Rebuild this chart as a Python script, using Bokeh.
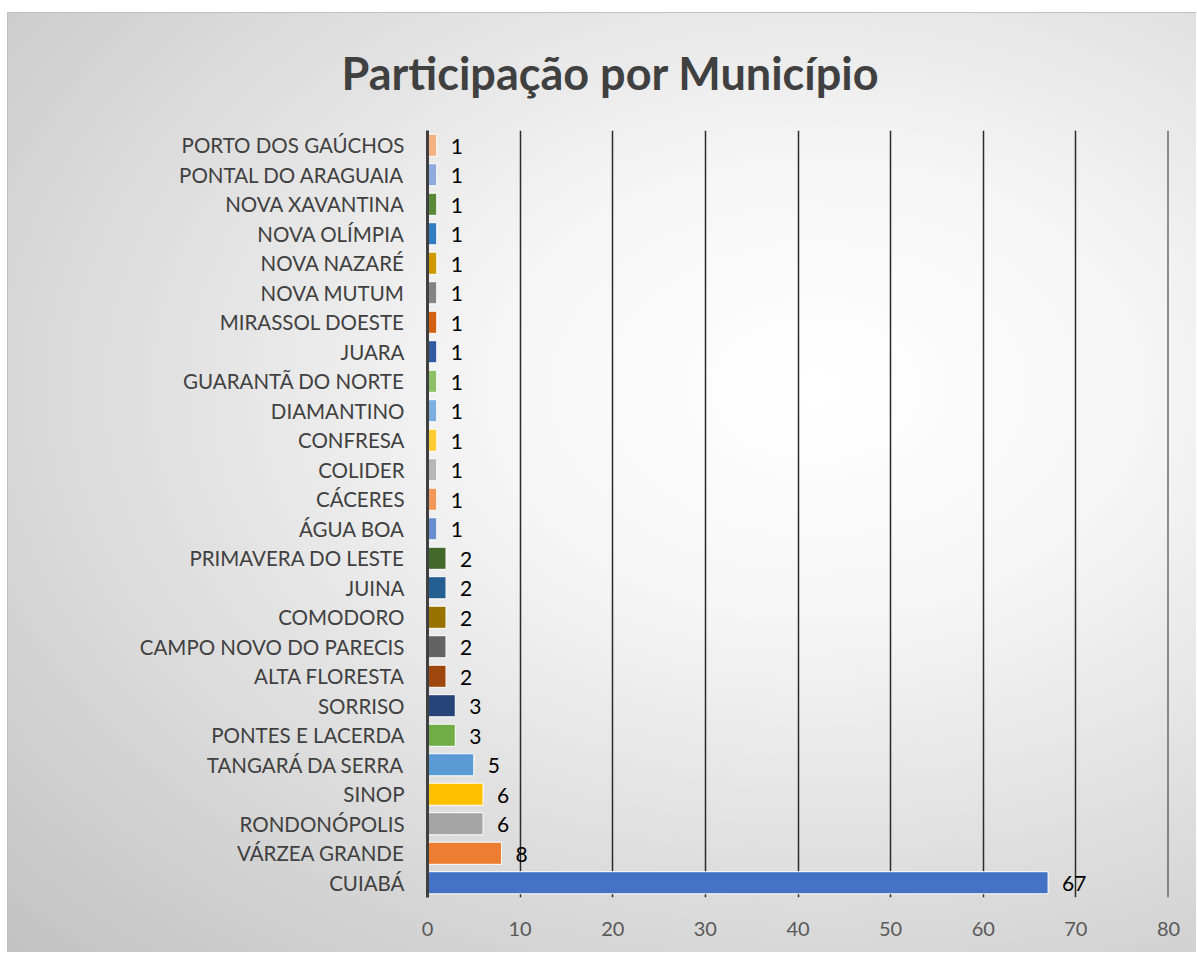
from bokeh.plotting import figure
from bokeh.models import ColumnDataSource, LabelSet, FactorRange, Range1d, FixedTicker, Span
from bokeh.core.properties import value
from bokeh.embed import file_html
from bokeh.resources import INLINE

# bottom -> top
municipios = [
    "CUIABÁ", "VÁRZEA GRANDE", "RONDONÓPOLIS", "SINOP", "TANGARÁ DA SERRA",
    "PONTES E LACERDA", "SORRISO", "ALTA FLORESTA", "CAMPO NOVO DO PARECIS",
    "COMODORO", "JUINA", "PRIMAVERA DO LESTE", "ÁGUA BOA", "CÁCERES", "COLIDER",
    "CONFRESA", "DIAMANTINO", "GUARANTÃ DO NORTE", "JUARA", "MIRASSOL DOESTE",
    "NOVA MUTUM", "NOVA NAZARÉ", "NOVA OLÍMPIA", "NOVA XAVANTINA",
    "PONTAL DO ARAGUAIA", "PORTO DOS GAÚCHOS",
]
valores = [67, 8, 6, 6, 5, 3, 3, 2, 2, 2, 2, 2, 1, 1, 1, 1, 1, 1, 1, 1, 1, 1, 1, 1, 1, 1]
cores = [
    "#4472C4", "#ED7D31", "#A5A5A5", "#FFC000", "#5B9BD5", "#70AD47",
    "#264478", "#9E480E", "#636363", "#997300", "#255E91", "#43682B",
    "#698ED0", "#F1975A", "#B7B7B7", "#FFCD33", "#7CAFDD", "#8CC168",
    "#335AA1", "#D26012", "#848484", "#CC9A00", "#327DC2", "#5A8A39",
    "#8FAADC", "#F4B183",
]
ticks_x = [0, 10, 20, 30, 40, 50, 60, 70, 80]
titulo = "Participação por Município"

src = ColumnDataSource(dict(m=municipios, v=valores, c=cores, t=[str(x) for x in valores]))

p = figure(
    width=1189, height=940,
    y_range=FactorRange(*municipios), x_range=Range1d(0, 80),
    output_backend="svg", toolbar_location=None,
    min_border_left=419, min_border_right=29, min_border_top=116, min_border_bottom=56,
    title=titulo,
)
p.styles = {
    "margin-top": "12px",
    "margin-left": "7px",
    "border-top": "1px solid #c0c0c0",
    "border-left": "1px solid #c0c0c0",
    "background": "radial-gradient(ellipse farthest-corner at 68% 40%, #ffffff 0%, #f6f6f6 28%, #c2c2c2 100%)",
}
p.border_fill_color = None
p.background_fill_color = None
p.outline_line_color = None

p.title.text_font = "Lato"
p.title.text_font_size = "45px"
p.title.text_font_style = "bold"
p.title.text_color = "#404040"
p.title.align = "left"
p.title.offset = -86
p.title.standoff = 61

p.hbar(y="m", right="v", height=0.75, fill_color="c", line_color="white", line_width=1, source=src)

labels = LabelSet(x="v", y="m", text="t", source=src, x_offset=14, y_offset=-1,
                  text_baseline="middle", text_align="left",
                  text_font_size="21px", text_font=value("Lato"), text_color="#000000")
p.add_layout(labels)

p.xgrid.ticker = FixedTicker(ticks=ticks_x)
p.xgrid.grid_line_color = "#2b2b2b"
p.xgrid.grid_line_width = 1.5
p.ygrid.grid_line_color = None
p.add_layout(Span(location=ticks_x[-1], dimension="height", line_color="#2b2b2b", line_width=2))

p.xaxis.ticker = FixedTicker(ticks=ticks_x)
p.xaxis.axis_line_color = None
p.xaxis.major_tick_line_color = None
p.xaxis.minor_tick_line_color = None
p.xaxis.major_label_standoff = 18
p.xaxis.major_label_text_font = "Lato"
p.xaxis.major_label_text_font_size = "20px"
p.xaxis.major_label_text_color = "#595959"

p.yaxis.axis_line_color = "#404040"
p.yaxis.axis_line_width = 3
p.yaxis.major_tick_line_color = None
p.yaxis.minor_tick_line_color = None
p.yaxis.major_label_standoff = 17
p.yaxis.major_label_text_font = "Lato"
p.yaxis.major_label_text_font_size = "20.5px"
p.yaxis.major_label_text_color = "#404040"

open("out.html", "w").write(file_html(p, INLINE))
